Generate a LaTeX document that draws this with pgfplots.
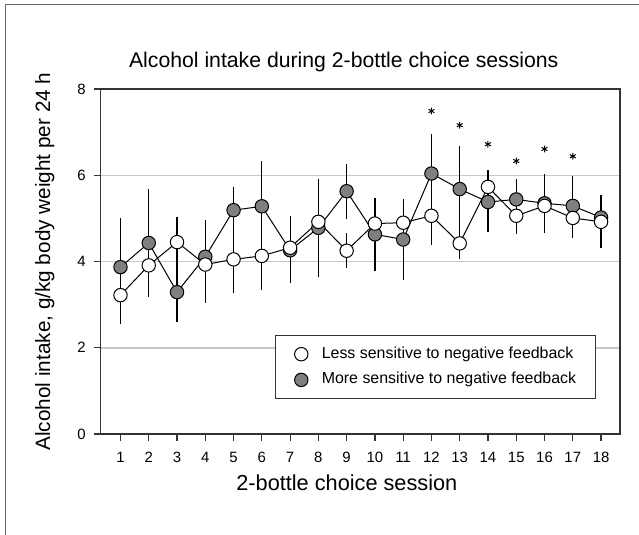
\documentclass[border=0pt]{standalone}
\usepackage{fontspec}
\setmainfont{Liberation Sans}
\usepackage{pgfplots}
\pgfplotsset{compat=1.18}
\usepackage{pgfplotstable}
\definecolor{axisgray}{HTML}{333333}
\definecolor{gridgray}{HTML}{C8C8C8}
\definecolor{framegray}{HTML}{6A6A6A}
\definecolor{markgray}{HTML}{7F7F7F}

\pgfplotstableread{
x  less  lesserr  more  moreerr
1  3.22  0.66  3.87  1.13
2  3.91  0.73  4.43  1.25
3  4.45  0.58  3.29  0.69
4  3.93  0.90  4.11  0.86
5  4.05  0.77  5.19  0.53
6  4.13  0.78  5.28  1.05
7  4.32  0.73  4.26  0.77
8  4.92  0.66  4.78  1.13
9  4.25  0.40  5.63  0.64
10 4.88  0.60  4.63  0.85
11 4.90  0.55  4.51  0.94
12 5.06  0.67  6.04  0.91
13 4.42  0.37  5.68  1.00
14 5.73  0.39  5.38  0.69
15 5.06  0.43  5.44  0.47
16 5.29  0.50  5.35  0.69
17 5.01  0.46  5.29  0.70
18 4.92  0.60  5.02  0.53
}\sessiondata

\pgfplotstableread{
x  y
12 7.49
13 7.16
14 6.72
15 6.33
16 6.61
17 6.44
}\stardata

\begin{document}
\begin{tikzpicture}
\path[use as bounding box] (0,0) rectangle (639bp,-535bp);
\draw[framegray, line width=1.5bp] (5.5bp,-545bp) -- (5.5bp,-4.5bp) -- (650bp,-4.5bp);
\begin{axis}[
  at={(100.7bp,-434bp)}, anchor=south west,
  scale only axis, width=519.3bp, height=345bp,
  xmin=0.3, xmax=18.67, ymin=0, ymax=8,
  xtick={1,...,18}, ytick={0,2,4,6,8},
  tick align=outside, xtick pos=bottom, ytick pos=left,
  major tick length=6.5bp,
  axis line style={axisgray, line width=1.2bp},
  tick style={axisgray, line width=1.2bp},
  ymajorgrids, grid style={gridgray, line width=1.5bp},
  /pgf/number format/assume math mode=true,
  tick label style={font=\fontsize{15}{15}\selectfont},
  xticklabel style={yshift=-8bp},
  yticklabel style={xshift=-5bp},
  title={Alcohol intake during 2-bottle choice sessions},
  title style={font=\fontsize{21.3}{21.3}\selectfont, at={(axis description cs:0.468,1.0464)}, anchor=base},
  xlabel={2-bottle choice session},
  xlabel style={font=\fontsize{21.8}{21.8}\selectfont, at={(axis description cs:0.474,-0.165)}, anchor=base},
  ylabel={Alcohol intake, g/kg body weight per 24 h},
  ylabel style={font=\fontsize{20.8}{20.8}\selectfont, at={(axis description cs:-0.0976,0.5)}, anchor=base},
  legend style={at={(axis description cs:0.953,0.1015)}, anchor=south east,
    draw=axisgray, line width=1bp, fill=white,
    font=\fontsize{16}{16}\selectfont,
    inner xsep=19bp, inner ysep=10.6bp, row sep=9.7bp, column sep=13.8bp,
    nodes={inner sep=0pt, text height=12bp, text depth=4bp},
    cells={anchor=west}},
  legend image code/.code={\draw[#1] plot coordinates {(0bp,0bp)};},
]
\addlegendimage{only marks, mark=*, mark size=6.7bp, mark options={fill=white, draw=black, line width=1bp}}
\addlegendentry{Less sensitive to negative feedback}
\addlegendimage{only marks, mark=*, mark size=6.7bp, mark options={fill=markgray, draw=black, line width=1bp}}
\addlegendentry{More sensitive to negative feedback}

% error bars first
\addplot[forget plot, draw=none, mark=none,
  error bars/.cd, y dir=both, y explicit, error mark=none,
  error bar style={black, line width=1.2bp}]
  table[x=x, y=more, y error=moreerr] {\sessiondata};
\addplot[forget plot, draw=none, mark=none,
  error bars/.cd, y dir=both, y explicit, error mark=none,
  error bar style={black, line width=1.2bp}]
  table[x=x, y=less, y error=lesserr] {\sessiondata};
% lines and markers
\addplot[forget plot, black, line width=1bp, mark=*, mark size=6.7bp,
  mark options={fill=markgray, draw=black, line width=1bp}]
  table[x=x, y=more] {\sessiondata};
\addplot[forget plot, black, line width=1bp, mark=*, mark size=6.7bp,
  mark options={fill=white, draw=black, line width=1bp}]
  table[x=x, y=less] {\sessiondata};
\addplot[forget plot, only marks, mark=asterisk, mark size=3.4bp, mark options={black, line width=1bp}]
  table[x=x, y=y] {\stardata};
\end{axis}
\end{tikzpicture}
\end{document}
